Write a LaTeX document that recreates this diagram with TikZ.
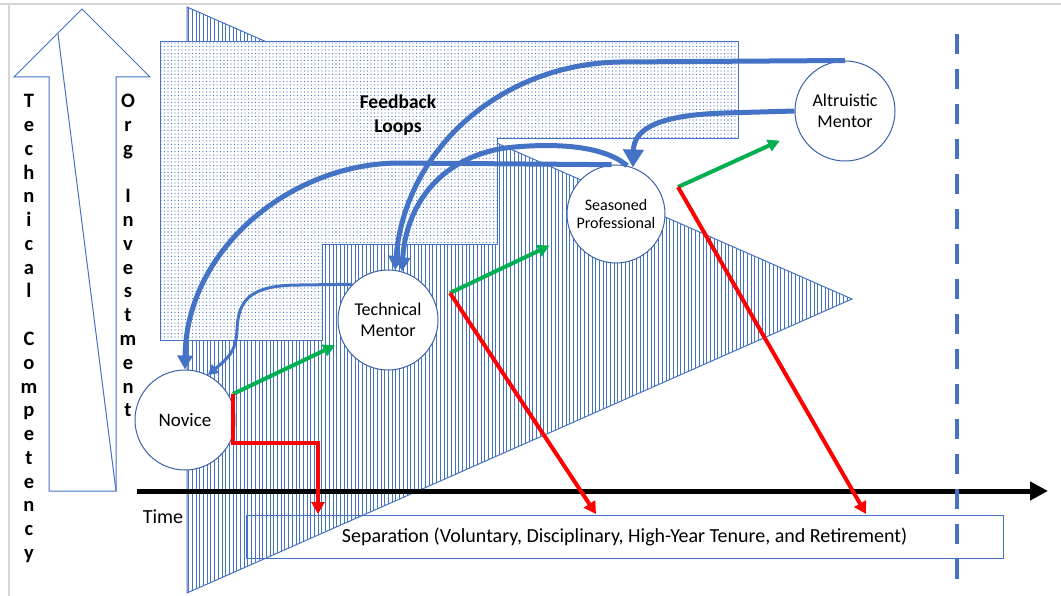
\documentclass[tikz,border=0pt]{standalone}
\usepackage{fontspec}
\setmainfont{Carlito}
\usepackage{xcolor}
\usepackage{tikz}
\usetikzlibrary{arrows.meta,patterns.meta}

\definecolor{fbblue}{RGB}{68,114,196}
\definecolor{growgreen}{RGB}{0,176,80}
\definecolor{leavered}{RGB}{255,0,0}
\definecolor{framegray}{RGB}{214,214,214}

\begin{document}
\begin{tikzpicture}[
  x=1pt, y=-1pt,
  every node/.style={font=\fontsize{20}{22}\selectfont},
  stage/.style={circle, draw=fbblue!85!black, line width=1pt, fill=white,
                minimum size=100pt, inner sep=0pt, align=center},
  letter/.style={anchor=base, inner sep=0pt, font=\fontsize{20.5}{23}\selectfont\bfseries},
  outline/.style={draw=fbblue, line width=1pt},
  fb/.style={draw=fbblue, line width=5pt, -{Triangle[length=14pt,width=15pt]}},
  promote/.style={draw=growgreen, line width=4pt, -{Triangle[length=12pt,width=12pt]}},
  leave/.style={draw=leavered, line width=4pt, -{Triangle[length=12pt,width=13pt]}},
]
\useasboundingbox (0,0) rectangle (1061,596);

%% ── page frame ───────────────────────────────────────────────────────────
\draw[framegray, line width=1.5pt] (0,4) -- (1061,4);
\draw[framegray, line width=1.5pt] (9,4) -- (9,596);

%% ── competency / investment arrow ────────────────────────────────────────
\draw[outline] (49,491) -- (49,77) -- (14,77) -- (82,9) -- (150,77)
  -- (116,77) -- (116,491) -- cycle;
\draw[outline] (58,34) -- (116,491);

\foreach \ch [count=\k from 0] in {T,e,c,h,n,i,c,a,l,{},C,o,m,p,e,t,e,n,c,y}
  \node[letter] (tech\k) at (29,{108+23.75*\k}) {\ch};
\foreach \ch [count=\k from 0] in {O,r,g,{},I,n,v,e,s,t,m,e,n,t}
  \node[letter] (org\k) at (128,{108+23.75*\k}) {\ch};

%% ── career wedge (hatched) and feedback area (dotted) ────────────────────
\path[preaction={fill=white},
      pattern={Lines[angle=90,distance=3.7pt,line width=0.9pt]}, pattern color=fbblue]
  (187,7) -- (852,299) -- (187,593) -- cycle;
\draw[outline] (187,7) -- (852,299) -- (187,593) -- cycle;

\path[preaction={fill=white},
      pattern={Dots[distance=3.5pt,radius=0.55pt]}, pattern color=fbblue]
  (160,42) -- (738,42) -- (738,139) -- (497,139) -- (497,245)
  -- (322,245) -- (322,340) -- (160,340) -- cycle;
\draw[outline] (160,42) -- (738,42) -- (738,139) -- (497,139) -- (497,245)
  -- (322,245) -- (322,340) -- (160,340) -- cycle;

\node[font=\fontsize{19.5}{24}\selectfont\bfseries, align=center] (fbtitle) at (398,115)
  {Feedback\\Loops};

%% ── separation box and time axis ─────────────────────────────────────────
\node[outline, minimum width=757pt, minimum height=43pt, inner sep=0pt] (sepbox)
  at (624.5,536.5) {Separation (Voluntary, Disciplinary, High-Year Tenure, and Retirement)};

\coordinate (t0) at (137,491);
\coordinate (t1) at (1048,491);
\draw[line width=5pt, -{Triangle[length=18pt,width=18pt]}] (t0) -- (t1);
\node (timelbl) at (163,517) {Time};

%% ── career stages ────────────────────────────────────────────────────────
\node[stage, font=\fontsize{19}{21}\selectfont] (novice) at (185,420) {Novice};
\node[stage, font=\fontsize{18}{21}\selectfont] (techMentor) at (388,320) {Technical\\Mentor};
\node[stage, minimum size=98pt, font=\fontsize{16}{18}\selectfont] (seasoned) at (616,214)
  {Seasoned\\Professional};
\node[stage, font=\fontsize{18}{21}\selectfont] (altruist) at (845,111) {Altruistic\\Mentor};

%% fork points and separation targets
\coordinate (nvFork) at (233,394);
\coordinate (tmFork) at (450,293);
\coordinate (spFork) at (678,187);
\coordinate (sepNv) at (318,514);
\coordinate (sepTm) at (596,514);
\coordinate (sepSp) at (866,514);

%% ── feedback loops ───────────────────────────────────────────────────────
\draw[fb] (altruist.north) -- (620,62) .. controls (500,64) and (405,150) .. (techMentor.82);
\draw[fb] (seasoned.77) .. controls (600,142) and (540,144) .. (505,148)
  .. controls (440,158) and (406,205) .. (techMentor.74);
\draw[fb] (seasoned.95) -- (400,163) .. controls (290,163) and (186,250) .. (novice.north);
\draw[fb, -{Triangle[length=18pt,width=20pt]}] (altruist.west) -- (725,113)
  .. controls (660,115) and (634,128) .. (seasoned.70);
\draw[fbblue, line width=3pt, -{Triangle[length=10pt,width=11pt]}]
  (techMentor.135) -- (300,285) .. controls (250,285) and (238,300) .. (237,330)
  .. controls (236,352) and (228,358) .. (novice.63);

%% ── promotion (green) and separation (red) ───────────────────────────────
\draw[promote, shorten >=8pt] (nvFork) -- (techMentor);
\draw[promote, shorten >=24pt] (tmFork) -- (seasoned);
\draw[promote, shorten >=21pt] (spFork) -- (altruist);

\draw[leave] (nvFork) -- ++(0,49) -| (sepNv);
\draw[leave] (tmFork) -- (sepTm);
\draw[leave] (spFork) -- (sepSp);

%% ── end of service line ──────────────────────────────────────────────────
\coordinate (tenureTop) at (957,34);
\coordinate (tenureBot) at (957,580);
\draw[fbblue, line width=4pt, dash pattern=on 20pt off 15pt] (tenureTop) -- (tenureBot);

\end{tikzpicture}
\end{document}
